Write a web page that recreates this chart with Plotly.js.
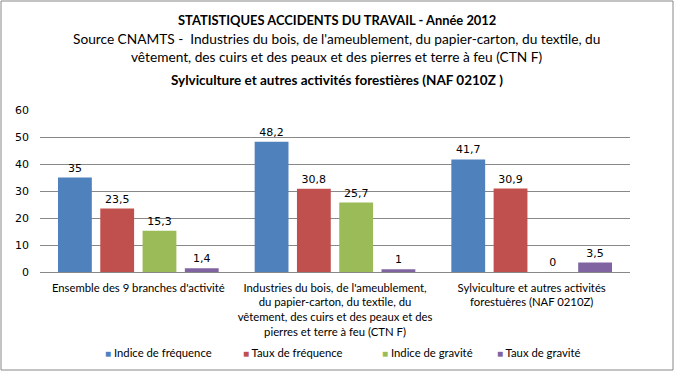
<!DOCTYPE html>
<html><head><meta charset="utf-8">
<script src="https://cdn.plot.ly/plotly-3.0.1.min.js"></script>
<style>html,body{margin:0;padding:0;background:#fff}#c{width:677px;height:373px}</style>
</head><body><div id="c"></div>
<script>
const categories = [
  "Ensemble des 9 branches d'activité",
  "Industries du bois, de l'ameublement,<br>du papier-carton, du textile, du<br>vêtement, des cuirs et des peaux et des<br>pierres et terre à feu (CTN F)",
  "Sylviculture et autres activités<br>forestuères (NAF 0210Z)"
];
const seriesNames = ["Indice de fréquence","Taux de fréquence","Indice de gravité","Taux de gravité"];
const seriesColors = ["#4F81BD","#C0504D","#9BBB59","#8064A2"];
const indiceFrequence = [35, 48.2, 41.7];
const tauxFrequence = [23.5, 30.8, 30.9];
const indiceGravite = [15.3, 25.7, 0];
const tauxGravite = [1.4, 1, 3.5];
const yTicks = [0,10,20,30,40,50,60];

const W = 677, H = 373, ML = 40, MR = 47, MT = 110, MB = 101;
const plotH = H - MT - MB, plotW = W - ML - MR;
function py(px){ return (H - MB - px) / plotH; }
function pxX(px){ return (px - ML) / plotW; }

const FONT = 'Lato';
const allValues = [indiceFrequence, tauxFrequence, indiceGravite, tauxGravite];
const traces = allValues.map((vals, i) => ({
  type: 'bar', name: seriesNames[i], x: categories, y: vals,
  marker: {color: seriesColors[i]},
  text: vals.map(v => String(v).replace('.', ',')),
  textposition: 'outside', cliponaxis: false, showlegend: false,
  textfont: {family: 'DejaVu Sans', size: 11, color: '#000'}
}));

const titleLines = [
  {t: '<b>STATISTIQUES ACCIDENTS DU TRAVAIL - Année 2012</b>', y: 20, s: 12.9},
  {t: "Source CNAMTS -  Industries du bois, de l'ameublement, du papier-carton, du textile, du", y: 38, s: 13.7},
  {t: "vêtement, des cuirs et des peaux et des pierres et terre à feu (CTN F)", y: 56, s: 13.7},
  {t: '<b>Sylviculture et autres activités forestières (NAF 0210Z )</b>', y: 80, s: 13.5}
];
const annotations = titleLines.map(l => ({
  text: l.t, xref: 'paper', yref: 'paper', x: pxX(337), y: py(l.y),
  xanchor: 'center', yanchor: 'middle', showarrow: false,
  font: {family: FONT, size: l.s, color: '#000'}
}));
const legendX = [103, 241, 380, 495];
seriesNames.forEach((n, i) => annotations.push({
  text: '<span style="color:' + seriesColors[i] + ';font-size:10px">■</span> ' + n,
  xref: 'paper', yref: 'paper', x: pxX(legendX[i]), y: py(352),
  xanchor: 'left', yanchor: 'middle', showarrow: false,
  font: {family: FONT, size: 11.3, color: '#000'}
}));

const layout = {
  width: W, height: H,
  margin: {l: ML, r: MR, t: MT, b: MB},
  paper_bgcolor: '#fff', plot_bgcolor: '#fff',
  barmode: 'group', bargap: 0.14, bargroupgap: 0.2,
  showlegend: false,
  xaxis: {tickfont: {family: FONT, size: 11.3, color: '#000'}, tickangle: 0,
    showline: false, ticks: 'outside', ticklen: 5, tickcolor: 'rgba(0,0,0,0)', automargin: false},
  yaxis: {range: [0, 60], tickvals: yTicks, showgrid: true, gridcolor: '#888', gridwidth: 1,
    zeroline: true, zerolinecolor: '#888', ticks: '', ticklabelstandoff: 10,
    tickfont: {family: 'DejaVu Sans', size: 11, color: '#000'}, automargin: false},
  annotations: annotations,
  shapes: [{type: 'rect', xref: 'paper', yref: 'paper',
    x0: pxX(1), x1: pxX(673), y0: py(1), y1: py(370), line: {color: '#888', width: 1}}]
};

Plotly.newPlot('c', traces, layout, {displayModeBar: false, staticPlot: true});
</script></body></html>
